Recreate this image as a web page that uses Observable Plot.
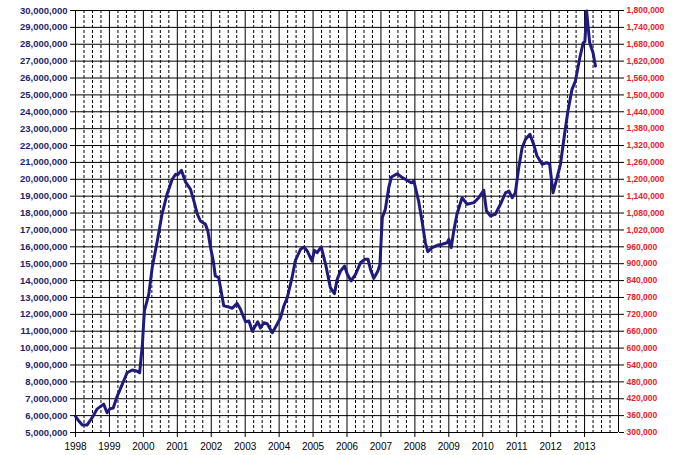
<!DOCTYPE html>
<html>
<head>
<meta charset="utf-8">
<script src="https://cdn.jsdelivr.net/npm/d3@7"></script>
<script src="https://cdn.jsdelivr.net/npm/@observablehq/plot@0.6"></script>
<style>
  html, body { margin: 0; padding: 0; background: #fff; }
  #chart svg { display: block; }
</style>
</head>
<body>
<div id="chart"></div>
<script>
// Series: decimal year and value (millions, left axis)
const years = [1998.00,1998.10,1998.20,1998.34,1998.49,1998.64,1998.83,1998.93,1999.01,1999.11,1999.23,1999.38,1999.52,1999.67,1999.80,1999.89,1999.97,2000.03,2000.16,2000.26,2000.41,2000.55,2000.70,2000.85,2000.95,2001.01,2001.12,2001.24,2001.39,2001.49,2001.59,2001.68,2001.83,2001.90,2001.98,2002.06,2002.12,2002.22,2002.29,2002.37,2002.52,2002.62,2002.76,2002.86,2003.01,2003.11,2003.21,2003.37,2003.45,2003.55,2003.65,2003.80,2003.94,2004.04,2004.14,2004.24,2004.38,2004.48,2004.63,2004.73,2004.83,2004.97,2005.04,2005.12,2005.24,2005.37,2005.51,2005.63,2005.71,2005.81,2005.93,2006.01,2006.12,2006.25,2006.40,2006.52,2006.62,2006.69,2006.79,2006.91,2006.97,2007.04,2007.13,2007.23,2007.31,2007.48,2007.63,2007.77,2007.89,2007.97,2008.11,2008.21,2008.31,2008.38,2008.51,2008.66,2008.80,2008.95,2009.00,2009.07,2009.15,2009.24,2009.39,2009.54,2009.74,2009.88,2010.03,2010.11,2010.23,2010.37,2010.52,2010.67,2010.77,2010.87,2010.96,2011.06,2011.16,2011.26,2011.39,2011.50,2011.60,2011.75,2011.88,2011.97,2012.07,2012.19,2012.29,2012.41,2012.51,2012.63,2012.73,2012.86,2012.96,2013.01,2013.06,2013.15,2013.25,2013.32];
const values = [5.95,5.68,5.44,5.44,5.88,6.40,6.68,6.17,6.40,6.45,7.16,7.87,8.54,8.70,8.64,8.54,10.20,12.20,13.20,14.77,16.35,17.94,19.13,20.00,20.30,20.26,20.53,19.85,19.40,18.70,17.93,17.53,17.33,16.94,15.95,15.16,14.27,14.17,13.38,12.50,12.43,12.36,12.65,12.30,11.56,11.60,11.00,11.56,11.20,11.50,11.44,10.91,11.41,11.80,12.50,12.99,14.17,15.20,15.85,15.99,15.75,15.16,15.79,15.65,15.99,14.96,13.58,13.22,14.07,14.57,14.86,14.37,13.98,14.37,15.06,15.26,15.26,14.67,14.13,14.57,14.96,17.73,18.22,19.50,20.14,20.33,20.10,19.94,19.80,19.90,18.71,17.53,16.24,15.71,15.95,16.09,16.15,16.24,16.44,15.95,17.00,17.93,18.91,18.52,18.62,18.91,19.35,18.12,17.83,17.93,18.52,19.20,19.30,18.91,19.20,20.69,21.87,22.37,22.67,22.07,21.38,20.89,20.98,20.92,19.20,20.10,20.89,22.67,24.05,25.33,25.82,27.20,28.09,28.15,29.97,28.09,27.50,26.71];

// Tick labels
const yearTicks = [1998,1999,2000,2001,2002,2003,2004,2005,2006,2007,2008,2009,2010,2011,2012,2013];
const leftTicks = [5,6,7,8,9,10,11,12,13,14,15,16,17,18,19,20,21,22,23,24,25,26,27,28,29,30];
const rightTicks = [300000,360000,420000,480000,540000,600000,660000,720000,780000,840000,900000,960000,1020000,1080000,1140000,1200000,1260000,1320000,1380000,1440000,1500000,1560000,1620000,1680000,1740000,1800000];

const data = years.map((t, i) => ({t, v: values[i]}));
const gridYears = d3.range(1998, 2015);
const quarterLines = d3.range(1998, 2014).flatMap(y => [y + 0.25, y + 0.5, y + 0.75]);
const fmt = d3.format(",");
const rightToLeft = r => 5 + (r - 300000) / 60000;

const chart = Plot.plot({
  width: 683,
  height: 455,
  marginLeft: 75,
  marginRight: 65,
  marginTop: 10,
  marginBottom: 23,
  style: {fontFamily: "'Liberation Sans', Arial, sans-serif", background: "#fff", overflow: "visible"},
  x: {type: "linear", domain: [1998, 2014]},
  y: {type: "linear", domain: [5, 30]},
  marks: [
    Plot.ruleX(quarterLines, {stroke: "#000", strokeWidth: 1, strokeDasharray: "3,2"}),
    Plot.ruleX(gridYears, {stroke: "#000", strokeWidth: 1}),
    Plot.ruleY(leftTicks, {stroke: "#000", strokeWidth: 1}),
    Plot.line(data, {x: "t", y: "v", stroke: "#1f1b7e", strokeWidth: 3, strokeLinejoin: "round", strokeLinecap: "round"}),
    Plot.axisY(leftTicks, {anchor: "left", tickSize: 5, tickPadding: 3, tickFormat: d => fmt(d * 1e6),
      fill: "#1f1f6e", stroke: "#000", fontSize: 9.5, fontWeight: "bold", label: null}),
    Plot.axisY(rightTicks.map(rightToLeft), {anchor: "right", tickSize: 5, tickPadding: 3,
      tickFormat: d => fmt(Math.round(300000 + (d - 5) * 60000)),
      fill: "#e8202a", stroke: "#000", fontSize: 8.5, fontWeight: "bold", label: null}),
    Plot.axisX(yearTicks, {anchor: "bottom", tickSize: 5, tickPadding: 5, tickFormat: d => String(d),
      fill: "#000", stroke: "#000", fontSize: 10, label: null})
  ]
});
document.getElementById("chart").appendChild(chart);
</script>
</body>
</html>
